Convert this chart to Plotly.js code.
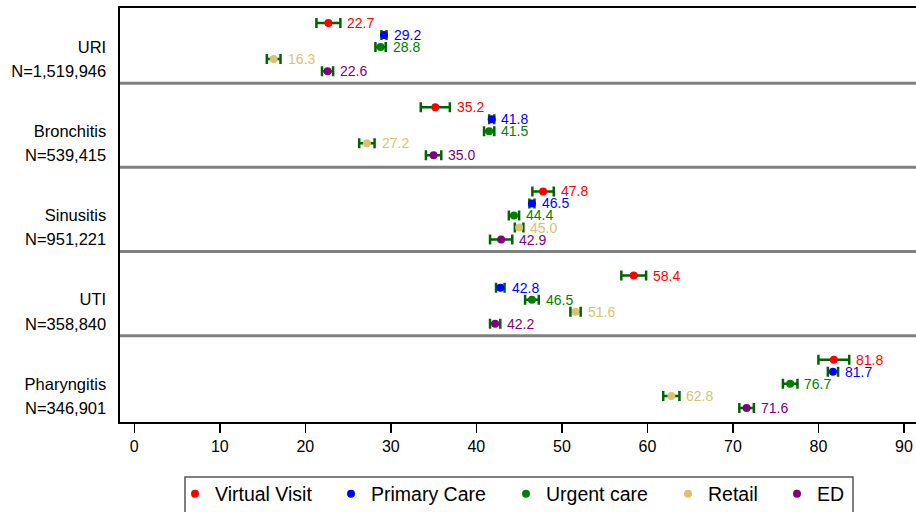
<!DOCTYPE html>
<html>
<head>
<meta charset="utf-8">
<script src="https://cdn.plot.ly/plotly-3.0.1.min.js"></script>
<style>html,body{margin:0;padding:0;background:#fff;}#chart{width:916px;height:512px;}</style>
</head>
<body>
<div id="chart"></div>
<script>
// ---- data ----
const categories = ['URI', 'Bronchitis', 'Sinusitis', 'UTI', 'Pharyngitis'];
const sampleSizes = ['N=1,519,946', 'N=539,415', 'N=951,221', 'N=358,840', 'N=346,901'];
const seriesNames = ['Virtual Visit', 'Primary Care', 'Urgent care', 'Retail', 'ED'];

const virtualVisit    = [22.7, 35.2, 47.8, 58.4, 81.8];
const virtualVisitErr = [1.4, 1.7, 1.25, 1.45, 1.8];
const primaryCare     = [29.2, 41.8, 46.5, 42.8, 81.7];
const primaryCareErr  = [0.3, 0.3, 0.3, 0.5, 0.6];
const urgentCare      = [28.8, 41.5, 44.4, 46.5, 76.7];
const urgentCareErr   = [0.6, 0.6, 0.6, 0.8, 0.85];
const retail          = [16.3, 27.2, 45.0, 51.6, 62.8];
const retailErr       = [0.8, 0.9, 0.5, 0.6, 0.95];
const ed              = [22.6, 35.0, 42.9, 42.2, 71.6];
const edErr           = [0.65, 0.9, 1.3, 0.6, 0.85];

const xTicks = [0, 10, 20, 30, 40, 50, 60, 70, 80, 90];

// ---- styling ----
const colors = ['#FF0000', '#0000FF', '#008000', '#D9C36F', '#800080'];
const errColor = '#006400';
const FONT = 'Liberation Sans, Arial, Helvetica, sans-serif';

const values = [virtualVisit, primaryCare, urgentCare, retail, ed];
const errors = [virtualVisitErr, primaryCareErr, urgentCareErr, retailErr, edErr];

const ROWS = 7; // slots per category block
function rowY(g, s) { return g * ROWS + s + 1; }

// legend layout (one small legend per series so the spacing matches the reference)
const PLOT_L = 120, PLOT_W = 796, PLOT_B = 422, PLOT_H = 414;
const legendTextStartPx = [215, 371, 546, 708, 817];
const legendIds = ['legend', 'legend2', 'legend3', 'legend4', 'legend5'];

const traces = [];
const annotations = [];
values.forEach((vals, s) => {
  const ys = vals.map((v, g) => rowY(g, s));
  traces.push({
    type: 'scatter', mode: 'markers', name: seriesNames[s],
    legend: legendIds[s],
    x: vals, y: ys,
    marker: {color: colors[s], size: 8},
    error_x: {type: 'data', array: errors[s], symmetric: true, color: errColor, thickness: 2.5, width: 5},
    cliponaxis: false,
    hoverinfo: 'x+name'
  });
  vals.forEach((v, g) => {
    annotations.push({
      x: v + errors[s][g], y: ys[g], xref: 'x', yref: 'y',
      text: v.toFixed(1), showarrow: false, xanchor: 'left', yanchor: 'middle',
      xshift: 5, font: {family: FONT, size: 14, color: colors[s]}
    });
  });
});

const tickvals = [], ticktext = [];
categories.forEach((c, g) => {
  tickvals.push(rowY(g, 2)); ticktext.push(c);
  tickvals.push(rowY(g, 4)); ticktext.push(sampleSizes[g]);
});

const shapes = [];
for (let g = 0; g < categories.length - 1; g++) {
  shapes.push({type: 'line', xref: 'paper', yref: 'y', x0: 0, x1: 1,
    y0: g * ROWS + 6, y1: g * ROWS + 6, line: {color: '#808080', width: 3}, layer: 'below'});
}
// frame around the legend entries
shapes.push({type: 'rect', xref: 'paper', yref: 'paper',
  x0: (185 - PLOT_L) / PLOT_W, x1: (853 - PLOT_L) / PLOT_W,
  y0: -(477 - PLOT_B) / PLOT_H, y1: -(518 - PLOT_B) / PLOT_H,
  line: {color: '#555', width: 1.5}, fillcolor: 'rgba(0,0,0,0)'});

const layout = {
  width: 916, height: 512,
  margin: {l: PLOT_L, r: 0, t: 8, b: 512 - PLOT_B, autoexpand: false},
  paper_bgcolor: '#fff', plot_bgcolor: '#fff',
  font: {family: FONT, color: '#000'},
  showlegend: true,
  xaxis: {
    range: [-1.67, 91.41], tickvals: xTicks, ticktext: xTicks.map(String),
    ticks: 'outside', ticklen: 9, tickwidth: 1.5, tickcolor: '#000',
    showline: true, linewidth: 2, linecolor: '#000', mirror: true,
    showgrid: false, zeroline: false, tickfont: {size: 16, family: FONT}
  },
  yaxis: {
    range: [34.17, -0.25], tickvals: tickvals, ticktext: ticktext,
    ticks: '', ticklabelstandoff: 8,
    showline: true, linewidth: 2.5, linecolor: '#000',
    showgrid: false, zeroline: false, tickfont: {size: 16.5, family: FONT}
  },
  shapes: shapes,
  annotations: annotations
};
legendIds.forEach((id, s) => {
  layout[id] = {
    orientation: 'h', x: (legendTextStartPx[s] - 40 - PLOT_L) / PLOT_W, xanchor: 'left',
    y: -(494 - PLOT_B) / PLOT_H, yanchor: 'middle',
    borderwidth: 0, bgcolor: 'rgba(0,0,0,0)',
    font: {size: 19.5, family: FONT, color: '#000'}
  };
});

Plotly.newPlot('chart', traces, layout, {staticPlot: true, displayModeBar: false});
</script>
</body>
</html>
